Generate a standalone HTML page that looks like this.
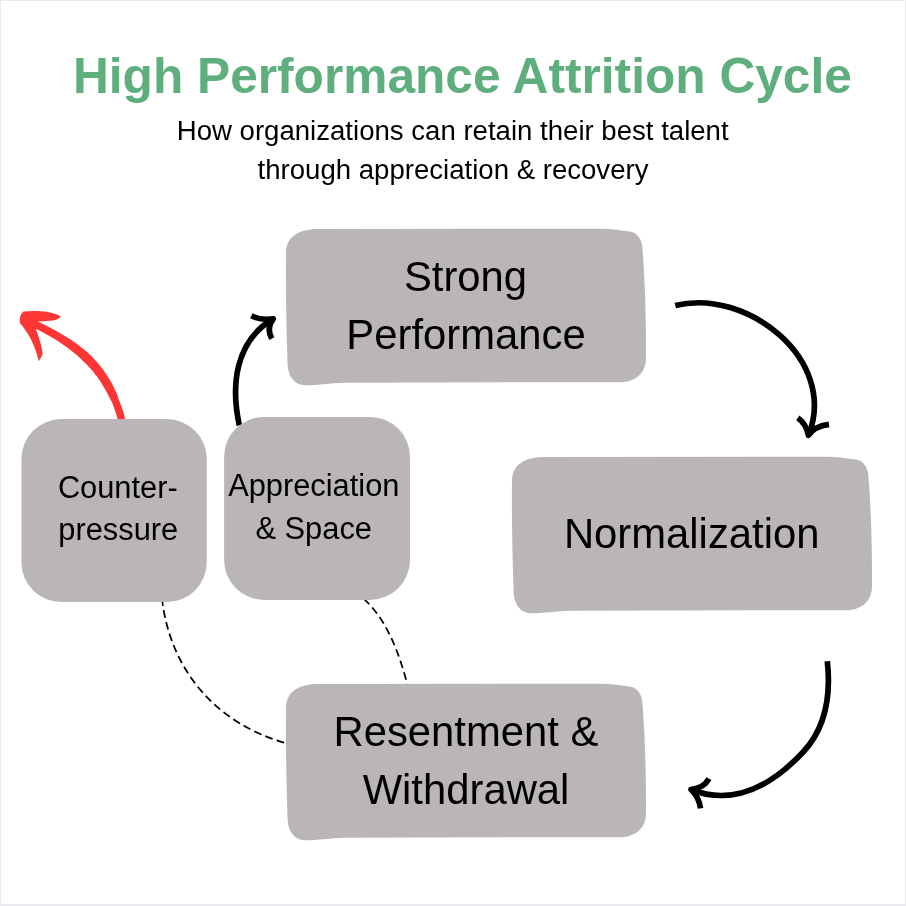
<!DOCTYPE html>
<html><head><meta charset="utf-8">
<style>
html,body{margin:0;padding:0;background:#fff;}
body{width:906px;height:906px;overflow:hidden;position:relative;}
svg{position:absolute;left:0;top:0;will-change:transform;}
text{font-family:"Liberation Sans",sans-serif;fill:#000;}
</style></head><body>
<svg width="906" height="906" viewBox="0 0 906 906">
<rect x="0" y="0" width="906" height="906" fill="#fff"/>
<g fill="#e9eaee"><rect x="0" y="0" width="906" height="1"/><rect x="0" y="0" width="1" height="906"/><rect x="905" y="0" width="1" height="906"/><rect x="0" y="904" width="906" height="2"/></g>
<text x="462.4" y="92.9" text-anchor="middle" style="font-weight:bold;font-size:49.67px;fill:#5fae7e">High Performance Attrition Cycle</text>
<text x="452.7" y="140" text-anchor="middle" style="font-size:27.58px">How organizations can retain their best talent</text>
<text x="453" y="178.8" text-anchor="middle" style="font-size:27.58px">through appreciation &amp; recovery</text>

<g fill="none" stroke="#000" stroke-width="1.75" stroke-dasharray="7.8 4.3">
<path stroke-dashoffset="3.9" d="M162.4,602.0 C171.6,671.7 216.9,723.7 286,743.2"/>
<path stroke-dashoffset="1.3" d="M364.7,599.7 C386.4,619.8 399.0,652.1 407.5,685"/>
</g>

<g fill="none" stroke="#000" stroke-width="5.7" stroke-linecap="butt" stroke-linejoin="round">
<path d="M675.3,305.6 C746.0,287.6 838.7,359.4 808.5,435.3"/>
<path d="M797.8,417.9 Q806,423.5 808.5,435.3 Q814,426.5 829,424.4"/>
<path d="M827.3,661.2 C832.7,710.3 816.9,737.2 803.4,751.7 C789.5,766.7 746.0,811.4 691.0,789.5"/>
<path d="M709,778.6 Q704,788 691,789.5 Q699,797 700.5,808.3"/>
<path d="M239.3,425.3 C230.8,385.6 234.9,341.3 273.3,318.8"/>
<path d="M251.3,315.8 Q261,320.5 273.3,318.8 Q266,328 271.8,338.6"/>
</g>
<path fill="#fe3535" d="M125.6,420.7 L124.6,417.0 L123.6,413.3 L122.6,409.8 L121.4,406.3 L120.1,403.0 L118.7,399.8 L117.8,396.4 L116.6,393.2 L115.2,390.2 L113.8,387.2 L112.3,384.3 L110.7,381.4 L109.1,378.7 L107.4,376.0 L105.7,373.4 L103.9,370.8 L102.0,368.3 L100.1,365.9 L98.2,363.6 L96.2,361.3 L94.1,359.0 L92.1,356.8 L89.9,354.7 L87.7,352.6 L85.4,350.7 L83.1,348.8 L80.7,346.9 L78.3,345.1 L75.9,343.3 L73.4,341.5 L70.9,339.8 L68.3,338.2 L65.7,336.5 L63.1,334.9 L60.4,333.4 L57.7,331.8 L54.9,330.3 L52.1,328.8 L49.3,327.3 L46.5,325.8 L43.6,324.3 L40.7,322.8 L37.7,321.4 L34.8,319.9 L31.7,318.5 L28.7,317.0 L25.6,315.6 L22.4,322.4 L25.5,323.8 L28.5,325.3 L31.5,326.7 L34.4,328.1 L37.3,329.6 L40.2,331.0 L43.0,332.5 L45.7,334.0 L48.5,335.4 L51.1,337.0 L53.7,338.6 L56.3,340.1 L58.8,341.7 L61.3,343.4 L63.7,345.0 L66.1,346.7 L68.5,348.4 L70.7,350.2 L73.0,352.0 L75.2,353.8 L77.3,355.6 L79.4,357.5 L81.5,359.4 L83.5,361.4 L85.5,363.3 L87.5,365.3 L89.4,367.4 L91.3,369.5 L93.1,371.6 L94.9,373.9 L96.6,376.1 L98.3,378.5 L100.0,380.9 L101.6,383.4 L103.1,385.9 L104.6,388.5 L106.1,391.2 L107.6,393.9 L109.0,396.8 L110.5,399.6 L112.1,402.4 L113.2,405.6 L114.3,408.8 L115.5,412.1 L116.6,415.5 L117.6,418.9 L118.6,422.5Z"/>
<path fill="#fe3535" d="M23.6,311.6 C35,310.5 50,311 60.7,316.2 C58,321 50,321 38.8,321.2 L36.2,329.8 C40,340 42.8,351 42.6,354.5 L38.8,361.3 C35,346 30,335 20,323 C19,318 21,313 23.6,311.6 Z"/>

<path fill="#bab6b7" d="M286,253 C286,238 297,229 318,229 L600,228.8 C612,229 622,230.5 630,231.6 C638,233 642.2,240 642.6,250 Q646.3,300 646,358 C646,372 637,382 620,382.3 Q480,381.8 345,382.8 C330,383.2 318,385.3 305,385.3 C294,385 287.5,376 287.5,362 Q285.5,300 286,253 Z"/>
<path fill="#bab6b7" d="M512,481 C512,466 523,457 544,457 L826,456.8 C838,457 848,458.5 856,459.6 C864,461 868.2,468 868.6,478 Q872.3,528 872,586 C872,600 863,610 846,610.3 Q706,609.8 571,610.8 C556,611.2 544,613.3 531,613.3 C520,613 513.5,604 513.5,590 Q511.5,528 512,481 Z"/>
<path fill="#bab6b7" d="M286,708 C286,693 297,684 318,684 L600,683.8 C612,684 622,685.5 630,686.6 C638,688 642.2,695 642.6,705 Q646.3,755 646,813 C646,827 637,837 620,837.3 Q480,836.8 345,837.8 C330,838.2 318,840.3 305,840.3 C294,840 287.5,831 287.5,817 Q285.5,755 286,708 Z"/>
<rect x="21.4" y="419.1" width="185.4" height="183" rx="40" fill="#bab6b7"/>
<rect x="224.1" y="416.9" width="185.9" height="183" rx="40" fill="#bab6b7"/>

<g style="font-size:41.8px" text-anchor="middle">
<text x="465.5" y="291">Strong</text>
<text x="466" y="348.6">Performance</text>
<text x="691.7" y="548">Normalization</text>
<text x="465.9" y="746">Resentment &amp;</text>
<text x="466" y="804">Withdrawal</text>
</g>
<g style="font-size:30.8px" text-anchor="middle">
<text x="117.8" y="498">Counter-</text>
<text x="118.25" y="540.1">pressure</text>
<text x="313.8" y="496">Appreciation</text>
<text x="313.7" y="538.5">&amp; Space</text>
</g>
</svg>
</body></html>
